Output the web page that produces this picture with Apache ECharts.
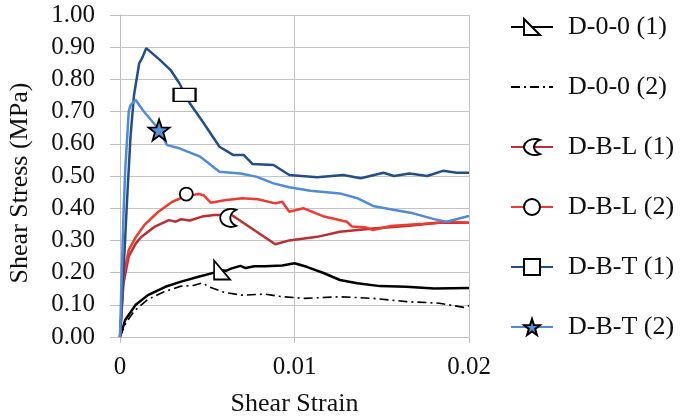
<!DOCTYPE html>
<html>
<head>
<meta charset="utf-8">
<script src="https://cdn.jsdelivr.net/npm/echarts@6/dist/echarts.min.js"></script>
<style>
html,body{margin:0;padding:0;background:#fff;}
#chart{width:684px;height:419px;}
</style>
</head>
<body>
<div id="chart"></div>
<script>
// ---- data ----
const seriesNames = ['D-0-0 (1)', 'D-0-0 (2)', 'D-B-L (1)', 'D-B-L (2)', 'D-B-T (1)', 'D-B-T (2)'];
const xTickLabels = ['0', '0.01', '0.02'];

const strainD00_1 = [0, 0.0003, 0.0009, 0.0016, 0.0026, 0.0035, 0.0045, 0.0054, 0.0058, 0.0061, 0.0064, 0.0069, 0.0072, 0.0077, 0.0083, 0.0093, 0.0100, 0.0107, 0.0117, 0.0126, 0.0136, 0.0149, 0.0164, 0.0180, 0.0200];
const stressD00_1 = [0, 0.053, 0.100, 0.130, 0.156, 0.172, 0.187, 0.200, 0.207, 0.206, 0.213, 0.221, 0.214, 0.220, 0.220, 0.222, 0.229, 0.218, 0.198, 0.177, 0.167, 0.158, 0.156, 0.151, 0.152];

const strainD00_2 = [0, 0.0003, 0.0008, 0.0016, 0.0025, 0.0035, 0.0042, 0.0047, 0.0051, 0.0060, 0.0070, 0.0083, 0.0093, 0.0106, 0.0126, 0.0145, 0.0164, 0.0183, 0.0197, 0.0200];
const stressD00_2 = [0, 0.040, 0.080, 0.117, 0.140, 0.158, 0.160, 0.168, 0.156, 0.138, 0.130, 0.133, 0.125, 0.120, 0.125, 0.120, 0.110, 0.105, 0.092, 0.097];

const strainDBL_1 = [0, 0.0002, 0.0005, 0.0009, 0.0012, 0.0020, 0.0028, 0.0032, 0.0035, 0.0040, 0.0047, 0.0054, 0.0064, 0.0089, 0.0097, 0.0113, 0.0126, 0.0145, 0.0164, 0.0183, 0.0200];
const stressDBL_1 = [0, 0.167, 0.250, 0.290, 0.310, 0.343, 0.363, 0.358, 0.366, 0.362, 0.374, 0.379, 0.379, 0.288, 0.300, 0.311, 0.327, 0.337, 0.345, 0.355, 0.355];

const strainDBL_2 = [0, 0.0002, 0.0005, 0.0009, 0.0014, 0.0022, 0.0030, 0.0037, 0.0045, 0.0048, 0.0052, 0.0060, 0.0070, 0.0079, 0.0089, 0.0093, 0.0097, 0.0105, 0.0117, 0.0130, 0.0133, 0.0141, 0.0145, 0.0155, 0.0174, 0.0189, 0.0200];
const stressDBL_2 = [0, 0.187, 0.270, 0.310, 0.348, 0.389, 0.420, 0.436, 0.444, 0.440, 0.417, 0.425, 0.431, 0.428, 0.415, 0.420, 0.389, 0.400, 0.374, 0.358, 0.343, 0.340, 0.332, 0.345, 0.352, 0.358, 0.355];

const strainDBT_1 = [0, 0.0002, 0.0004, 0.0006, 0.0008, 0.0011, 0.0013, 0.0015, 0.0023, 0.0029, 0.0034, 0.0040, 0.0048, 0.0057, 0.0065, 0.0071, 0.0076, 0.0088, 0.0097, 0.0113, 0.0128, 0.0138, 0.0151, 0.0157, 0.0166, 0.0176, 0.0185, 0.0193, 0.0200];
const stressDBT_1 = [0, 0.20, 0.42, 0.62, 0.75, 0.85, 0.87, 0.897, 0.860, 0.829, 0.788, 0.726, 0.664, 0.591, 0.565, 0.565, 0.537, 0.534, 0.503, 0.496, 0.503, 0.493, 0.510, 0.500, 0.508, 0.500, 0.516, 0.510, 0.510];

const strainDBT_2 = [0, 0.0001, 0.0002, 0.0003, 0.0005, 0.0006, 0.0009, 0.0013, 0.0021, 0.0027, 0.0034, 0.0046, 0.0057, 0.0069, 0.0078, 0.0088, 0.0097, 0.0109, 0.0126, 0.0136, 0.0145, 0.0155, 0.0168, 0.0180, 0.0187, 0.0200];
const stressDBT_2 = [0, 0.20, 0.38, 0.52, 0.70, 0.72, 0.736, 0.705, 0.653, 0.596, 0.586, 0.560, 0.513, 0.508, 0.498, 0.477, 0.465, 0.454, 0.446, 0.431, 0.407, 0.397, 0.384, 0.366, 0.358, 0.376];

// single marker per series (null = no marker)
const markerStrain = [0.00585, null, 0.0062, 0.0038, 0.0037, 0.00224];
const markerStress = [0.208, null, 0.370, 0.444, 0.752, 0.643];

// ---- styling ----
const FONT = '"Liberation Serif", "Times New Roman", serif';
const lineColors = ['#000000', '#000000', '#BE2E2E', '#EE3A30', '#234E8A', '#4F8BD6'];
const legendSymbols = [
  'path://M0,0L0,12L11,12Z',
  'circle',
  'path://M16,2A9,9,0,1,0,16,18A9,9,0,0,1,16,2Z',
  'circle',
  'path://M0,0L21,0L21,12L0,12Z',
  'path://M10,0L12.35,6.76L19.51,6.91L13.8,11.24L15.88,18.09L10,14L4.12,18.09L6.2,11.24L0.49,6.91L7.65,6.76Z'
];
const plotSymbols = [
  'path://M0,0L0,12L11,12Z',
  'circle',
  'path://M16,2A9,9,0,1,0,16,18A9,9,0,0,1,16,2Z',
  'circle',
  'rect',
  'path://M10,0L12.35,6.76L19.51,6.91L13.8,11.24L15.88,18.09L10,14L4.12,18.09L6.2,11.24L0.49,6.91L7.65,6.76Z'
];
const markerSizes = [[16, 19], 0, [16, 18], 13, [22, 13], 21];
const symbolFills = ['#ffffff', 'rgba(0,0,0,0)', '#ffffff', '#ffffff', '#ffffff', '#5B8FD2'];

const strains = [strainD00_1, strainD00_2, strainDBL_1, strainDBL_2, strainDBT_1, strainDBT_2];
const stresses = [stressD00_1, stressD00_2, stressDBL_1, stressDBL_2, stressDBT_1, stressDBT_2];

const series = seriesNames.map((name, i) => {
  const hasMarker = markerStrain[i] !== null;
  const s = {
    name: name,
    type: 'line',
    data: strains[i].map((x, k) => [x, stresses[i][k]]),
    showSymbol: false,
    symbol: legendSymbols[i],
    symbolKeepAspect: true,
    smooth: false,
    lineStyle: {
      color: lineColors[i],
      width: i === 1 ? 1.6 : 2.5,
      type: i === 1 ? [9, 4, 2, 4] : 'solid'
    },
    itemStyle: hasMarker
      ? { color: symbolFills[i], borderColor: '#000', borderWidth: 1.6 }
      : { color: 'rgba(0,0,0,0)', borderColor: 'rgba(0,0,0,0)', borderWidth: 0 },
    emphasis: { disabled: true },
    z: 2
  };
  if (hasMarker) {
    s.markPoint = {
      symbol: plotSymbols[i],
      symbolSize: markerSizes[i],
      symbolKeepAspect: false,
      label: { show: false },
      itemStyle: { color: symbolFills[i], borderColor: '#000', borderWidth: 1.8 },
      data: [{ coord: [markerStrain[i], markerStress[i]] }],
      z: 5
    };
  }
  return s;
});

const chart = echarts.init(document.getElementById('chart'), null, { renderer: 'canvas' });
chart.setOption({
  animation: false,
  backgroundColor: '#ffffff',
  grid: { left: 120, right: 215, top: 15, bottom: 82, containLabel: false, outerBoundsMode: 'none' },
  xAxis: {
    type: 'value',
    min: 0, max: 0.02, interval: 0.01,
    name: 'Shear Strain',
    nameLocation: 'middle',
    nameGap: 54,
    nameTextStyle: { fontFamily: FONT, fontSize: 26, color: '#111' },
    axisLine: { show: true, lineStyle: { color: '#BFBFBF', width: 1 } },
    axisTick: { show: true, length: 6, lineStyle: { color: '#BFBFBF' } },
    axisLabel: {
      fontFamily: FONT, fontSize: 25, color: '#111', margin: 18,
      formatter: (v) => xTickLabels[Math.round(v / 0.01)]
    },
    splitLine: { show: true, lineStyle: { color: '#C4C4C4', width: 1 } }
  },
  yAxis: {
    type: 'value',
    min: 0, max: 1, interval: 0.1,
    name: 'Shear Stress (MPa)',
    nameLocation: 'middle',
    nameGap: 87,
    nameTextStyle: { fontFamily: FONT, fontSize: 26, color: '#111', padding: [0, 14, 0, 0] },
    axisLine: { show: true, lineStyle: { color: '#BFBFBF', width: 1 } },
    axisTick: { show: true, length: 10, lineStyle: { color: '#BFBFBF' } },
    axisLabel: {
      fontFamily: FONT, fontSize: 25, color: '#111', margin: 25,
      formatter: (v) => v.toFixed(2)
    },
    splitLine: { show: true, lineStyle: { color: '#C4C4C4', width: 1 } }
  },
  legend: {
    orient: 'vertical',
    left: 505,
    top: 9,
    itemWidth: 42,
    itemHeight: 20,
    itemGap: 34,
    symbolKeepAspect: true,
    data: seriesNames,
    textStyle: { fontFamily: FONT, fontSize: 26, color: '#111', lineHeight: 26, padding: [0, 0, 0, 10] }
  },
  series: series
});
</script>
</body>
</html>
